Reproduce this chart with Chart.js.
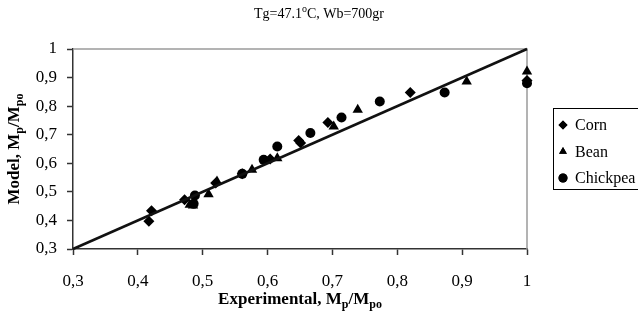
<!DOCTYPE html>
<html>
<head>
<meta charset="utf-8">
<script src="https://cdn.jsdelivr.net/npm/chart.js@4/dist/chart.umd.min.js"></script>
<style>
  html, body { margin: 0; padding: 0; background: #fff; }
  #wrap { position: relative; width: 638px; height: 328px; }
</style>
</head>
<body>
<div id="wrap"><canvas id="scatterChart" width="638" height="328"></canvas></div>
<script>
"use strict"

// values (Experimental x, Model y)
const cornX = [0.417, 0.421, 0.472, 0.520, 0.561, 0.604, 0.648, 0.651, 0.693, 0.820, 1.000];
const cornY = [0.397, 0.434, 0.472, 0.531, 0.563, 0.615, 0.680, 0.671, 0.743, 0.848, 0.890];
const beanX = [0.480, 0.485, 0.509, 0.522, 0.576, 0.615, 0.702, 0.739, 0.907, 1.000];
const beanY = [0.455, 0.452, 0.492, 0.536, 0.577, 0.618, 0.729, 0.787, 0.886, 0.921];
const chickpeaX = [0.486, 0.488, 0.561, 0.594, 0.615, 0.666, 0.714, 0.773, 0.873, 1.000];
const chickpeaY = [0.458, 0.487, 0.563, 0.612, 0.659, 0.706, 0.760, 0.816, 0.848, 0.880];
const lineX = [0.3, 1.0];
const lineY = [0.3, 1.0];
const tickValues = [0.3, 0.4, 0.5, 0.6, 0.7, 0.8, 0.9, 1.0];
const seriesNames = ['Corn', 'Bean', 'Chickpea'];
const seriesShapes = ['rectRot', 'triangle', 'circle'];

const SERIF = '"Liberation Serif", "DejaVu Serif", serif';

document.addEventListener("DOMContentLoaded", () => {
  drawScatterChart();
});

function toPoints(xs, ys) {
  return xs.map((x, i) => ({ x: x, y: ys[i] }));
}

function tickLabel(v) {
  if (v === 1) return '1';
  return v.toFixed(1).replace('.', ',');
}

// draws text runs, some of them sub/superscript
function drawRuns(ctx, runs, x, y, size, weight, align) {
  const fontFor = r => weight + ' ' + (r.sub || r.sup ? Math.round(size * 0.7) : size) + 'px ' + SERIF;
  const widths = runs.map(r => {
    ctx.font = fontFor(r);
    return ctx.measureText(r.t).width;
  });
  const total = widths.reduce((a, b) => a + b, 0);
  let cx = align === 'center' ? x - total / 2 : x;
  ctx.textBaseline = 'middle';
  ctx.textAlign = 'left';
  runs.forEach((r, i) => {
    ctx.font = fontFor(r);
    let dy = 0;
    if (r.sub) dy = size * 0.3;
    if (r.sup) dy = -size * 0.35;
    ctx.fillText(r.t, cx, y + dy);
    cx += widths[i];
  });
}

const decorPlugin = {
  id: 'decor',
  beforeDatasetsDraw(chart) {
    const { ctx, chartArea: a } = chart;
    ctx.save();
    ctx.strokeStyle = '#9a9a9a';
    ctx.lineWidth = 1.5;
    ctx.beginPath();
    ctx.moveTo(a.left, a.top);
    ctx.lineTo(a.right, a.top);
    ctx.lineTo(a.right, a.bottom);
    ctx.stroke();
    ctx.restore();
  },
  afterDraw(chart) {
    const { ctx, chartArea: a } = chart;
    ctx.save();
    ctx.fillStyle = '#000';
    // title
    drawRuns(ctx, [{ t: 'Tg=47.1' }, { t: 'o', sup: true }, { t: 'C, Wb=700gr' }],
      319, 14, 14, 'normal', 'center');
    // x axis title
    drawRuns(ctx, [{ t: 'Experimental, M' }, { t: 'p', sub: true }, { t: '/M' }, { t: 'po', sub: true }],
      (a.left + a.right) / 2, 300, 17, 'bold', 'center');
    // y axis title
    ctx.save();
    ctx.translate(15, (a.top + a.bottom) / 2);
    ctx.rotate(-Math.PI / 2);
    drawRuns(ctx, [{ t: 'Model, M' }, { t: 'p', sub: true }, { t: '/M' }, { t: 'po', sub: true }],
      0, 0, 17, 'bold', 'center');
    ctx.restore();

    // legend box
    const bx = 553, by = 108, bw = 100, bh = 81;
    ctx.strokeStyle = '#000';
    ctx.lineWidth = 1;
    ctx.strokeRect(bx + 0.5, by + 0.5, bw, bh);
    seriesNames.forEach((name, i) => {
      const yy = by + 17 + i * 26.5;
      Chart.helpers.drawPoint(ctx, {
        pointStyle: seriesShapes[i], radius: 4.5, rotation: 0, borderWidth: 0
      }, 563, yy);
      ctx.fill();
      ctx.font = '16px ' + SERIF;
      ctx.textAlign = 'left';
      ctx.textBaseline = 'middle';
      ctx.fillStyle = '#000';
      ctx.fillText(name, 575, yy + 1);
    });
    ctx.restore();
  }
};

function drawScatterChart() {
  const markers = { backgroundColor: '#000', borderColor: '#000', borderWidth: 0 };
  const options = {
    type: 'scatter',
    data: {
      datasets: [
        {
          label: 'Line',
          data: toPoints(lineX, lineY),
          showLine: true,
          borderColor: '#111',
          borderWidth: 2.5,
          pointRadius: 0
        },
        Object.assign({ label: seriesNames[0], data: toPoints(cornX, cornY), pointStyle: seriesShapes[0], pointRadius: 5.5 }, markers),
        Object.assign({ label: seriesNames[1], data: toPoints(beanX, beanY), pointStyle: seriesShapes[1], pointRadius: 6 }, markers),
        Object.assign({ label: seriesNames[2], data: toPoints(chickpeaX, chickpeaY), pointStyle: seriesShapes[2], pointRadius: 5 }, markers)
      ]
    },
    options: {
      responsive: false,
      animation: false,
      clip: false,
      layout: { padding: { left: 0, right: 111, top: 49, bottom: 0 } },
      plugins: {
        legend: { display: false },
        title: { display: false },
        tooltip: { enabled: false }
      },
      scales: {
        x: {
          type: 'linear',
          min: 0.3,
          max: 1,
          afterFit: s => { s.height = 79; },
          afterBuildTicks: s => { s.ticks = tickValues.map(v => ({ value: v })); },
          grid: { drawOnChartArea: false, drawTicks: true, tickLength: 6, color: '#333', tickWidth: 1.5 },
          border: { color: '#333', width: 1.5 },
          ticks: {
            color: '#000',
            padding: 16,
            font: { family: SERIF, size: 17 },
            callback: v => tickLabel(v)
          }
        },
        y: {
          type: 'linear',
          min: 0.3,
          max: 1,
          afterFit: s => { s.width = 73; },
          afterBuildTicks: s => { s.ticks = tickValues.map(v => ({ value: v })); },
          grid: { drawOnChartArea: false, drawTicks: true, tickLength: 6, color: '#333', tickWidth: 1.5 },
          border: { color: '#333', width: 1.5 },
          ticks: {
            color: '#000',
            padding: 10,
            font: { family: SERIF, size: 17 },
            callback: v => tickLabel(v)
          }
        }
      }
    },
    plugins: [decorPlugin]
  };
  const ctx = document.getElementById('scatterChart');
  new Chart(ctx, options)
}
</script>
</body>
</html>
